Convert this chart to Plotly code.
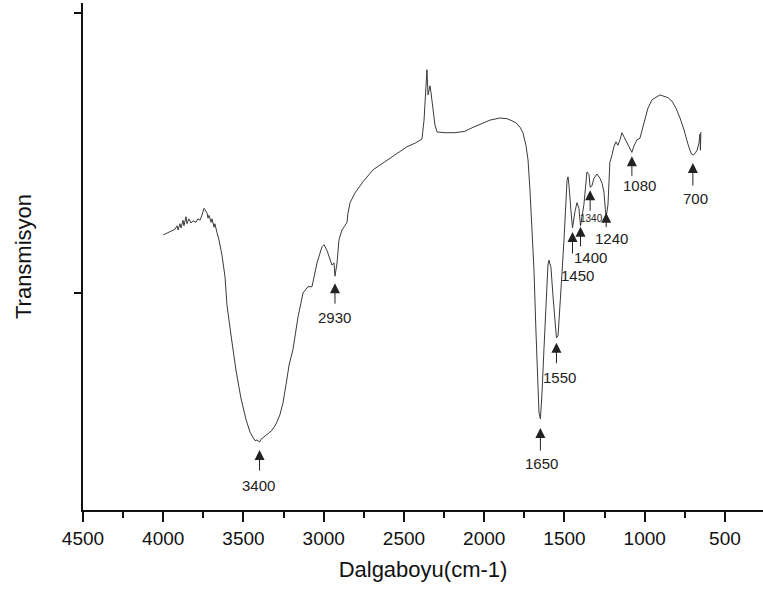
import numpy as np
import plotly.graph_objects as go

# FTIR spectrum: wavenumber (cm-1) and transmission (arbitrary units)
wavenumber = [4000, 3970, 3946, 3927, 3914, 3908, 3896, 3889, 3877, 3871, 3858, 3852,
              3840, 3827, 3815, 3796, 3784, 3771, 3759, 3746, 3740, 3727, 3721, 3715,
              3702, 3696, 3684, 3678, 3665, 3653, 3640, 3634, 3615, 3603, 3578, 3547,
              3516, 3484, 3459, 3441, 3428, 3416, 3400, 3391, 3372, 3347, 3322, 3297,
              3273, 3254, 3235, 3216, 3192, 3160, 3129, 3098, 3073, 3042, 3011, 2998,
              2980, 2961, 2949, 2936, 2930, 2917, 2905, 2886, 2868, 2855, 2849, 2836,
              2805, 2755, 2693, 2631, 2544, 2481, 2431, 2388, 2375, 2363, 2357, 2350,
              2344, 2338, 2332, 2319, 2307, 2294, 2245, 2182, 2120, 2076, 2026, 1964,
              1902, 1858, 1827, 1802, 1777, 1759, 1740, 1727, 1715, 1702, 1690, 1678,
              1671, 1665, 1659, 1650, 1646, 1640, 1628, 1615, 1603, 1597, 1584, 1572,
              1559, 1550, 1540, 1528, 1516, 1503, 1491, 1484, 1478, 1472, 1460, 1450,
              1435, 1422, 1410, 1404, 1400, 1379, 1366, 1360, 1347, 1340, 1329, 1316,
              1298, 1279, 1266, 1254, 1245, 1240, 1229, 1217, 1204, 1192, 1179, 1167,
              1154, 1142, 1129, 1111, 1092, 1080, 1067, 1048, 1030, 1017, 998, 980,
              955, 930, 905, 880, 855, 830, 805, 780, 755, 731, 712, 700,
              687, 674, 668, 662, 656, 653, 650]
transmission = [48.3, 48.6, 48.9, 49.1, 49.6, 49.0, 49.9, 49.3, 50.4, 49.6, 50.9, 49.9,
                50.6, 50.0, 50.3, 50.1, 50.6, 50.4, 51.1, 52.1, 51.9, 51.4, 50.7, 51.1,
                50.1, 50.6, 49.4, 49.9, 48.6, 47.6, 46.1, 45.4, 42.3, 38.3, 34.0, 29.0,
                25.0, 21.9, 20.1, 19.4, 18.9, 19.0, 18.7, 19.1, 19.4, 19.9, 20.4, 21.3,
                22.6, 24.3, 26.9, 29.7, 31.9, 36.6, 40.0, 40.9, 40.9, 44.3, 46.6, 46.9,
                46.1, 44.7, 44.0, 44.3, 42.4, 44.3, 47.6, 49.0, 49.7, 50.1, 51.4, 52.9,
                54.3, 55.9, 57.6, 58.6, 60.0, 60.9, 61.4, 62.0, 64.7, 70.4, 71.9, 68.3,
                69.0, 69.6, 68.7, 66.1, 64.0, 63.0, 62.9, 62.9, 63.1, 63.6, 64.1, 64.7,
                65.0, 64.9, 64.6, 64.3, 63.7, 62.9, 61.1, 59.0, 54.7, 49.7, 43.3, 34.7,
                29.0, 24.7, 23.0, 22.0, 23.3, 25.7, 31.9, 39.0, 44.0, 44.7, 43.6, 39.7,
                35.4, 33.6, 33.9, 37.6, 42.6, 47.6, 54.0, 56.1, 56.6, 55.4, 51.9, 49.3,
                51.6, 52.9, 52.1, 50.1, 49.6, 52.6, 56.1, 57.3, 56.9, 55.1, 55.3, 56.4,
                57.0, 56.4, 55.7, 54.4, 51.9, 50.9, 52.6, 58.7, 59.7, 60.9, 61.6, 61.1,
                61.9, 62.9, 62.3, 61.4, 60.6, 60.1, 61.0, 61.9, 62.1, 63.3, 65.1, 66.4,
                67.6, 67.9, 68.3, 68.1, 67.9, 67.4, 66.4, 65.0, 63.3, 61.3, 60.0, 59.7,
                59.9, 60.4, 61.0, 61.4, 62.7, 60.4, 63.0]

# Assigned band positions (cm-1)
peaks = [3400, 2930, 1650, 1550, 1450, 1400, 1340, 1240, 1080, 700]
peak_labels = ["3400", "2930", "1650", "1550", "1450", "1400", "1340", "1240", "1080", "700"]

# Arrow/label styling per band (pixels): gap below curve, arrow length,
# label offset from arrow tip, label font size
arrow_gap = [8, 7, 9, 5, 4, 1, 3, -4, 4, 8]
arrow_len = [22, 22, 24, 22, 23, 21, 22, 20, 21, 24]
label_dx = [-1, 0, 1, 3, 5, 10, 1, 5, 8, 3]
label_dy = [35, 34, 35, 35, 44, 31, 28, 26, 29, 35]
label_size = [15, 15, 15, 15, 15, 15, 10, 15, 15, 15]

FONT = "Liberation Sans, Arial, sans-serif"

fig = go.Figure()
fig.add_trace(go.Scatter(
    x=wavenumber, y=transmission, mode="lines",
    line=dict(color="#3a3a3a", width=1),
    hoverinfo="skip", showlegend=False,
))

# sort ascending for interpolation
order = np.argsort(wavenumber)
wn_sorted = np.asarray(wavenumber, dtype=float)[order]
tr_sorted = np.asarray(transmission, dtype=float)[order]

annotations = []
for p, lab, g, ln, dx, dy, fs in zip(peaks, peak_labels, arrow_gap, arrow_len,
                                      label_dx, label_dy, label_size):
    yv = float(np.interp(p, wn_sorted, tr_sorted))
    annotations.append(dict(
        x=p, y=yv, xref="x", yref="y", text="", showarrow=True,
        ax=0, ay=g + ln, axref="pixel", ayref="pixel",
        standoff=g if g > 0 else 0, yshift=0 if g > 0 else -g,
        arrowhead=2, arrowsize=2.0, arrowwidth=1, arrowcolor="#222222",
    ))
    annotations.append(dict(
        x=p, y=yv, xref="x", yref="y", text=lab, showarrow=False,
        xshift=dx, yshift=-(g + dy), xanchor="center", yanchor="middle",
        font=dict(family=FONT, size=fs, color="#222222"),
    ))

fig.update_layout(
    width=763, height=593,
    margin=dict(l=83, r=0, t=3, b=83),
    paper_bgcolor="white", plot_bgcolor="white",
    font=dict(family=FONT, color="#111111"),
    annotations=annotations,
    xaxis=dict(
        range=[4500, 263], showgrid=False, zeroline=False,
        showline=True, linecolor="#111111", linewidth=2,
        tickmode="array", tickvals=[4500, 4000, 3500, 3000, 2500, 2000, 1500, 1000, 500],
        ticks="outside", ticklen=10, tickwidth=2, tickcolor="#111111",
        tickfont=dict(family=FONT, size=19, color="#111111"),
        minor=dict(ticks="outside", ticklen=6, tickwidth=2, tickcolor="#111111",
                   tickmode="array",
                   tickvals=[4250, 3750, 3250, 2750, 2250, 1750, 1250, 750, 250]),
        title=dict(text="Dalgaboyu(cm-1)", font=dict(family=FONT, size=22, color="#111111"),
                   standoff=14),
        automargin=False,
    ),
    yaxis=dict(
        range=[9, 81.43], showgrid=False, zeroline=False,
        showline=True, linecolor="#111111", linewidth=2,
        tickmode="array", tickvals=[40, 80], showticklabels=False,
        ticks="outside", ticklen=7, tickwidth=2, tickcolor="#111111",
        title=dict(text="Transmisyon", font=dict(family=FONT, size=22, color="#111111"),
                   standoff=36),
        automargin=False,
    ),
)

fig.write_html("out.html")
